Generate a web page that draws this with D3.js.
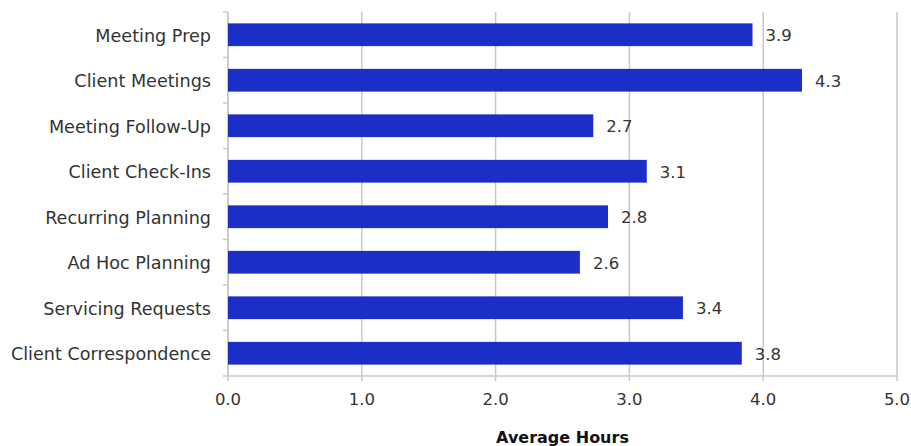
<!DOCTYPE html>
<html lang="en">
<head>
  <meta charset="UTF-8">
  <title>Average Hours</title>
  <script src="https://d3js.org/d3.v7.min.js"></script>
  <style>
    body { margin: 0; background: #fff; }
    text { font-family: "DejaVu Sans", sans-serif; fill: #333; }
  </style>
</head>
<body>
  <script>
    // data
    const categories = ["Meeting Prep", "Client Meetings", "Meeting Follow-Up", "Client Check-Ins",
      "Recurring Planning", "Ad Hoc Planning", "Servicing Requests", "Client Correspondence"];
    const hours = [3.92, 4.29, 2.73, 3.13, 2.84, 2.63, 3.40, 3.84];
    const xTicks = [0, 1, 2, 3, 4, 5];

    const width = 911, height = 446;
    const margin = { top: 12, right: 14, bottom: 70, left: 228 };
    const gridColor = "#c8c8c8";
    const labelSize = 17.6;
    const numSize = 16.5;

    const svg = d3.select("body").append("svg")
      .attr("width", width)
      .attr("height", height);

    const x = d3.scaleLinear().domain([0, 5]).range([margin.left, width - margin.right]);
    const y = d3.scaleBand().domain(categories)
      .range([margin.top, height - margin.bottom])
      .paddingInner(0.5).paddingOuter(0.25);

    const bottom = height - margin.bottom;

    // vertical gridlines + x ticks
    svg.append("g").selectAll("line")
      .data(xTicks)
      .enter().append("line")
      .attr("x1", d => x(d)).attr("x2", d => x(d))
      .attr("y1", margin.top).attr("y2", bottom + 5)
      .attr("stroke", gridColor).attr("stroke-width", 1.5);

    // x axis baseline
    svg.append("line")
      .attr("x1", x(0)).attr("x2", x(5))
      .attr("y1", bottom).attr("y2", bottom)
      .attr("stroke", gridColor).attr("stroke-width", 1.5);

    // y axis line and band ticks
    const step = y.step();
    const bounds = d3.range(categories.length + 1).map(i => margin.top + i * step);
    svg.append("line")
      .attr("x1", x(0)).attr("x2", x(0))
      .attr("y1", margin.top).attr("y2", bottom)
      .attr("stroke", gridColor).attr("stroke-width", 1.5);
    svg.append("g").selectAll("line")
      .data(bounds)
      .enter().append("line")
      .attr("x1", x(0) - 5).attr("x2", x(0))
      .attr("y1", d => d).attr("y2", d => d)
      .attr("stroke", gridColor).attr("stroke-width", 1.5);

    // x tick labels
    svg.append("g").selectAll("text")
      .data(xTicks)
      .enter().append("text")
      .attr("x", d => x(d))
      .attr("y", bottom + 29)
      .attr("text-anchor", "middle")
      .attr("font-size", numSize)
      .text(d => d.toFixed(1));

    // bars
    svg.append("g").selectAll("rect")
      .data(hours)
      .enter().append("rect")
      .attr("x", x(0))
      .attr("y", (d, i) => y(categories[i]))
      .attr("width", d => x(d) - x(0))
      .attr("height", y.bandwidth())
      .attr("fill", "#1b2ec5");

    // value labels
    svg.append("g").selectAll("text")
      .data(hours)
      .enter().append("text")
      .attr("x", d => x(d) + 13)
      .attr("y", (d, i) => y(categories[i]) + y.bandwidth() / 2)
      .attr("dy", "0.4em")
      .attr("font-size", numSize)
      .text(d => d.toFixed(1));

    // category labels
    svg.append("g").selectAll("text")
      .data(categories)
      .enter().append("text")
      .attr("x", x(0) - 17)
      .attr("y", d => y(d) + y.bandwidth() / 2)
      .attr("dy", "0.4em")
      .attr("text-anchor", "end")
      .attr("font-size", labelSize)
      .text(d => d);

    // axis title
    svg.append("text")
      .attr("x", (x(0) + x(5)) / 2)
      .attr("y", height - 3)
      .attr("text-anchor", "middle")
      .attr("font-size", 16)
      .attr("font-weight", "bold")
      .style("fill", "#111")
      .text("Average Hours");
  </script>
</body>
</html>
